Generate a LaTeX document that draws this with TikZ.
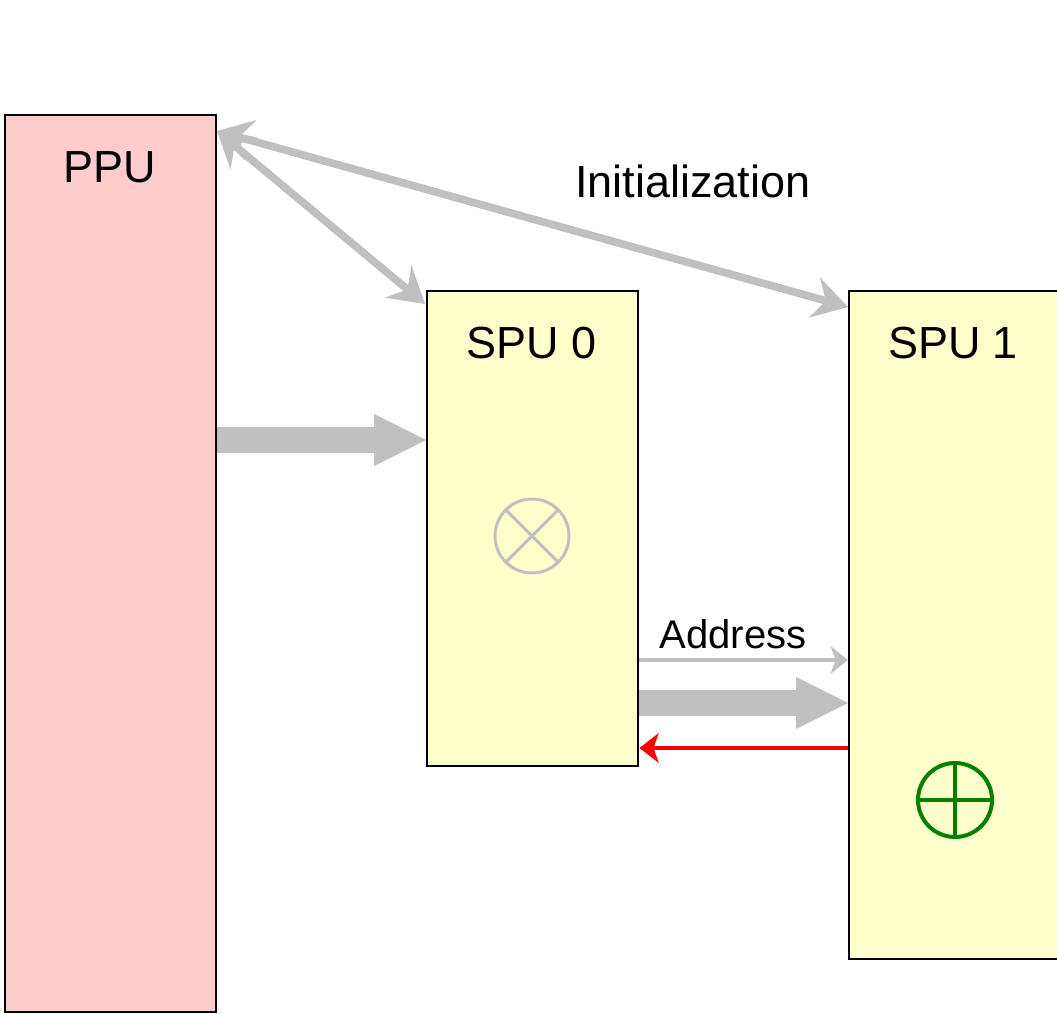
\documentclass[tikz,border=0pt]{standalone}
\usepackage{fontspec}
\setmainfont{Liberation Sans}
\usetikzlibrary{arrows.meta}
\definecolor{ppupink}{HTML}{FFCCCC}
\definecolor{spuyellow}{HTML}{FFFFCC}
\definecolor{linkgray}{HTML}{C0C0C0}
\definecolor{addgreen}{HTML}{008000}
\begin{document}
\begin{tikzpicture}[font=\fontsize{12.8}{15}\selectfont,
		unit/.style={draw=black,line width=0.7pt,anchor=north west,inner sep=0pt},
		initarrow/.style={linkgray,line width=2.2pt,{Stealth[length=10pt,width=12pt,inset=3.5pt,line width=0pt]}-{Stealth[length=10pt,width=12pt,inset=3.5pt,line width=0pt]}},
		bigarrow/.style={linkgray,line width=7.4pt,-{Triangle[length=0.52cm,width=0.52cm,line width=0pt]}},
		oparc/.style={circle,minimum size=0.74cm,inner sep=0pt}]
			\useasboundingbox (0,0) rectangle (10.57,10.13);
			\node[unit,fill=ppupink,minimum width=2.11cm,minimum height=8.97cm] (ppu) at (0.04,8.99) {};
			\node[unit,fill=spuyellow,minimum width=2.11cm,minimum height=4.75cm] (spu0) at (4.26,7.23) {};
			\node[unit,fill=spuyellow,minimum width=2.3cm,minimum height=6.68cm] (spu1) at (8.48,7.23) {};
			\node[anchor=base] (ppulabel) at (1.095,8.30) {PPU};
			\node[anchor=base] (spu0label) at (5.315,6.54) {SPU 0};
			\node[anchor=base] (spu1label) at (9.53,6.54) {SPU 1};
			\node[anchor=base] (initlabel) at (6.93,8.15) {Initialization};
			\coordinate (initsrc) at (2.17,8.82);
			\draw[initarrow] (initsrc)--(4.25,7.09);
			\draw[initarrow] (initsrc)--(8.48,7.06);
			\draw[bigarrow] (ppu.east |- 0,5.73)--(spu0.west |- 0,5.73);
			\draw[linkgray,line width=0.9pt,-{Stealth[length=5pt,width=8pt,inset=1.5pt,line width=0pt]}] (spu0.east |- 0,3.53)--(spu1.west |- 0,3.53);
			\node[anchor=base,font=\fontsize{11.4}{13}\selectfont] (addrlabel) at (7.33,3.65) {Address};
			\draw[bigarrow] (spu0.east |- 0,3.10)--(spu1.west |- 0,3.10);
			\draw[red,line width=1.2pt,-{Stealth[length=5.5pt,width=8.5pt,inset=1.5pt,line width=0pt]}] (spu1.west |- 0,2.65)--(spu0.east |- 0,2.65);
			\node[oparc,draw=linkgray,line width=0.03cm] (mul) at (5.32,4.77) {};
			\draw[linkgray,line width=0.03cm] (mul.north east)--(mul.south west) (mul.north west)--(mul.south east);
			\node[oparc,draw=addgreen,line width=0.04cm] (add) at (9.55,2.13) {};
			\draw[addgreen,line width=0.04cm] (add.north)--(add.south) (add.west)--(add.east);
		\end{tikzpicture}
\end{document}
